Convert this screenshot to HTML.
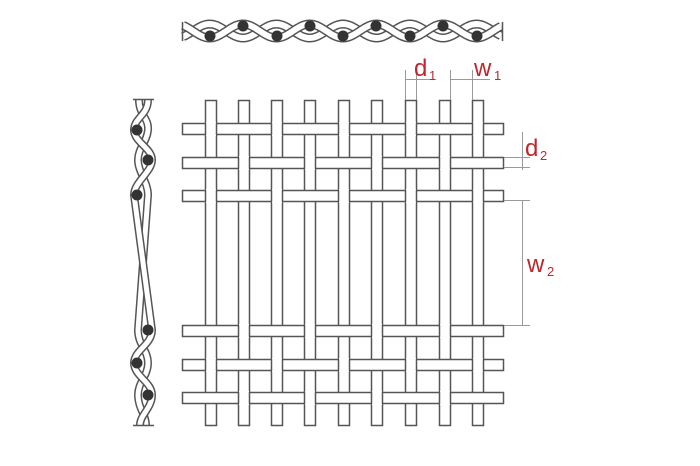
<!DOCTYPE html>
<html><head><meta charset="utf-8"><style>
html,body{margin:0;padding:0;background:#fff;width:700px;height:466px;overflow:hidden}
svg{display:block}
text{font-family:"Liberation Sans",sans-serif;fill:#c0272d}
</style></head><body>
<svg id="s" width="700" height="466" viewBox="0 0 700 466" xmlns="http://www.w3.org/2000/svg">
<g id="g" stroke="#555" stroke-width="1.5" fill="#fff"></g>
<g stroke="#999" stroke-width="1" fill="none">
<line x1="405.5" y1="70" x2="405.5" y2="100"/><line x1="416.5" y1="70" x2="416.5" y2="100"/><line x1="405" y1="79.5" x2="435" y2="79.5"/>
<line x1="450.5" y1="70" x2="450.5" y2="100"/><line x1="472.5" y1="70" x2="472.5" y2="100"/><line x1="450" y1="79.5" x2="490" y2="79.5"/>
<line x1="504" y1="157.5" x2="530" y2="157.5"/><line x1="504" y1="167.5" x2="530" y2="167.5"/><line x1="522.5" y1="132" x2="522.5" y2="170"/>
<line x1="504" y1="200.5" x2="530" y2="200.5"/><line x1="504" y1="325.5" x2="530" y2="325.5"/><line x1="522.5" y1="200" x2="522.5" y2="325"/>
</g>
<text x="414" y="76" font-size="24">d</text><text x="429" y="80" font-size="13">1</text>
<text x="474" y="76" font-size="24">w</text><text x="494" y="80" font-size="13">1</text>
<text x="525" y="156" font-size="24">d</text><text x="540" y="160" font-size="13">2</text>
<text x="527" y="272" font-size="24">w</text><text x="547" y="276" font-size="13">2</text>
</svg>
<script>
var g=document.getElementById('g'),h='';
var cols=[205,238,271,304,338,371,405,439,472],W=11;
var rows=[123,157,190,325,359,392],H=11;
cols.forEach(function(x){h+='<rect x="'+x+'.5" y="100.5" width="'+W+'" height="325"/>';});
rows.forEach(function(y){h+='<rect x="182.5" y="'+y+'.5" width="321" height="'+H+'"/>';});
rows.forEach(function(y,r){cols.forEach(function(x,c){
 if((r+c)%2==0){h+='<rect x="'+(x+1)+'" y="'+(y-1)+'" width="'+(W-1)+'" height="'+(H+3)+'" stroke="none"/>';
 h+='<line x1="'+x+'.5" y1="'+y+'" x2="'+x+'.5" y2="'+(y+H+1)+'"/><line x1="'+(x+W)+'.5" y1="'+y+'" x2="'+(x+W)+'.5" y2="'+(y+H+1)+'"/>';}
});});
// top wave
function wave(ph){var p='';for(var x=183;x<=502;x+=2){var y=31+7*Math.cos(2*Math.PI*(x-243)/66.7+ph);p+=(p?'L':'M')+x+','+y.toFixed(1);}return p;}
['0',Math.PI].forEach(function(ph){var d=wave(+ph);h+='<path d="'+d+'" fill="none" stroke="#555" stroke-width="9"/><path d="'+d+'" fill="none" stroke="#fff" stroke-width="6"/>';});
h+='<line x1="182.5" y1="22" x2="182.5" y2="41"/><line x1="502.5" y1="22" x2="502.5" y2="41"/>';
[243,310,376,443].forEach(function(x){h+='<circle cx="'+x+'" cy="26" r="5.5" fill="#333" stroke="none"/>';});
[210,277,343,410,477].forEach(function(x){h+='<circle cx="'+x+'" cy="36" r="5.5" fill="#333" stroke="none"/>';});
// left wave
var A='M139,100 C139,115 149,118 148,130 S138,148 138,160 S148,182 148,195 L138,330 C138,345 148,350 148,363 S138,382 138,395 S146,415 146,425';
var B='M148,100 C148,115 134,118 134,130 S152,148 152,160 S134,182 134,195 L152,330 C152,345 134,350 134,363 S152,382 152,395 S140,415 140,425';
[A,B].forEach(function(d){h+='<path d="'+d+'" fill="none" stroke="#555" stroke-width="8"/><path d="'+d+'" fill="none" stroke="#fff" stroke-width="5"/>';});
h+='<line x1="133" y1="99.5" x2="154" y2="99.5"/><line x1="133" y1="425.5" x2="154" y2="425.5"/>';
[[137,130],[148,160],[137,195],[148,330],[137,363],[148,395]].forEach(function(p){h+='<circle cx="'+p[0]+'" cy="'+p[1]+'" r="5.5" fill="#333" stroke="none"/>';});
g.innerHTML=h;
</script>
</body></html>
